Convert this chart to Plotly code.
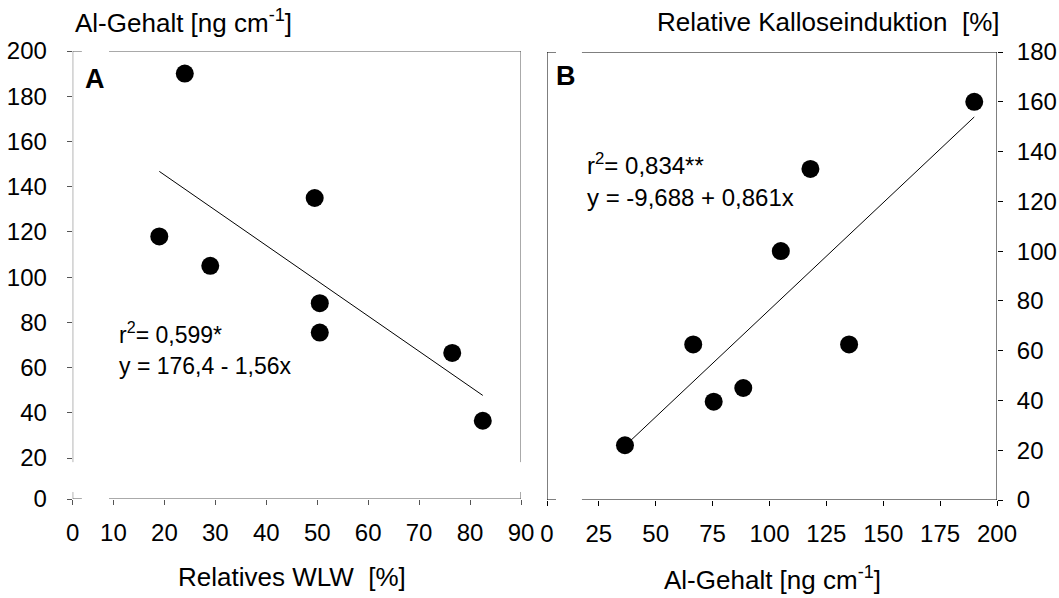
import plotly.graph_objects as go

# Measured values (8 samples)
wlw_rel = [24.0, 19.0, 29.0, 49.5, 50.5, 50.5, 76.5, 82.5]          # Relatives WLW [%]
al_content = [190.0, 118.0, 105.0, 135.0, 88.5, 75.5, 66.5, 36.5]   # Al-Gehalt [ng cm-1]
callose_rel = [160.0, 133.0, 100.0, 62.5, 45.0, 39.5, 62.5, 22.0]   # Relative Kalloseinduktion [%]

# Regression coefficients
fit_a = (176.4, -1.56)
fit_b = (-9.688, 0.861)
label_a = ["r<sup>2</sup>= 0,599*", "y = 176,4 - 1,56x"]
label_b = ["r<sup>2</sup>= 0,834**", "y = -9,688 + 0,861x"]

# Tick labels; the first tick sits at the axis break position
xa_ticks = [2, 10, 20, 30, 40, 50, 60, 70, 80, 90]
xa_text = ["0", "10", "20", "30", "40", "50", "60", "70", "80", "90"]
ya_ticks = [1.9, 20, 40, 60, 80, 100, 120, 140, 160, 180, 200]
ya_text = ["0", "20", "40", "60", "80", "100", "120", "140", "160", "180", "200"]
xb_ticks = [2.24, 25, 50, 75, 100, 125, 150, 175, 200]
xb_text = ["0", "25", "50", "75", "100", "125", "150", "175", "200"]
yb_ticks = [0, 20, 40, 60, 80, 100, 120, 140, 160, 180]

W, H = 1059, 598
FONT = "Liberation Sans, Arial, sans-serif"
TICKFONT = dict(family=FONT, size=24, color="black")
GRAY = "#555555"


def px(x):
    return x / W


def py(y):
    return 1 - y / H


fig = go.Figure()

# Panel A: Al content vs relative WLW
fig.add_trace(go.Scatter(
    x=wlw_rel, y=al_content, mode="markers", xaxis="x", yaxis="y",
    marker=dict(color="black", size=18), showlegend=False))
xa_line = [min(wlw_rel), max(wlw_rel)]
fig.add_trace(go.Scatter(
    x=xa_line, y=[fit_a[0] + fit_a[1] * v for v in xa_line], mode="lines",
    xaxis="x", yaxis="y", line=dict(color="black", width=1), showlegend=False))

# Panel B: callose induction vs Al content
fig.add_trace(go.Scatter(
    x=al_content, y=callose_rel, mode="markers", xaxis="x2", yaxis="y2",
    marker=dict(color="black", size=18), showlegend=False))
xb_line = [min(al_content), max(al_content)]
fig.add_trace(go.Scatter(
    x=xb_line, y=[fit_b[0] + fit_b[1] * v for v in xb_line], mode="lines",
    xaxis="x2", yaxis="y2", line=dict(color="black", width=1), showlegend=False))

common = dict(showgrid=False, zeroline=False, showline=False, ticks="outside",
              ticklen=5, tickwidth=1, tickfont=TICKFONT, fixedrange=True,
              automargin=False)

fig.update_layout(
    width=W, height=H, margin=dict(l=0, r=0, t=0, b=0, autoexpand=False),
    paper_bgcolor="white", plot_bgcolor="white",
    xaxis=dict(domain=[px(72.7), px(521)], range=[2, 90], tickmode="array",
               tickvals=xa_ticks, ticktext=xa_text, tickcolor=GRAY,
               anchor="y", ticklabelstandoff=7, **common),
    yaxis=dict(domain=[py(499), py(51)], range=[1.9, 200], tickmode="array",
               tickvals=ya_ticks, ticktext=ya_text, tickcolor=GRAY,
               anchor="x", ticklabelstandoff=15, **common),
    xaxis2=dict(domain=[px(547), px(997)], range=[2.24, 200], tickmode="array",
                tickvals=xb_ticks, ticktext=xb_text, tickcolor="black",
                anchor="y2", ticklabelstandoff=7, **common),
    yaxis2=dict(domain=[py(500), py(52)], range=[0, 180], tickmode="array",
                tickvals=yb_ticks, side="right", tickcolor="black",
                anchor="x2", ticklabelstandoff=9, **common),
)

# Frame segments with axis breaks near the origin
def seg(xref, yref, x0, y0, x1, y1, color):
    fig.add_shape(type="line", xref=xref, yref=yref, x0=x0, y0=y0, x1=x1, y1=y1,
                  line=dict(color=color, width=1), layer="below")

# Panel A
seg("x", "y", 2, 1.9, 3.8, 1.9, GRAY)        # bottom stub
seg("x", "y", 9.13, 1.9, 90, 1.9, GRAY)      # bottom axis
seg("x", "y", 2, 200, 3.8, 200, GRAY)        # top stub
seg("x", "y", 9.13, 200, 90, 200, GRAY)      # top frame
seg("x", "y", 2, 1.9, 2, 5, GRAY)            # left stub
seg("x", "y", 2, 18.2, 2, 200, GRAY)         # left axis
seg("x", "y", 90, 1.9, 90, 5, GRAY)          # right stub
seg("x", "y", 90, 18.2, 90, 200, GRAY)       # right frame

# Panel B
seg("x2", "y2", 2.24, 0, 6.2, 0, "black")
seg("x2", "y2", 17.6, 0, 200, 0, "black")
seg("x2", "y2", 2.24, 180, 6.2, 180, "black")
seg("x2", "y2", 17.6, 180, 200, 180, "black")
seg("x2", "y2", 2.24, 0, 2.24, 180, "black")
seg("x2", "y2", 200, 0, 200, 180, "black")

def note(text, x, y, size=26, xanchor="center", bold=False):
    fig.add_annotation(text=f"<b>{text}</b>" if bold else text,
                       x=px(x), y=py(y), xref="paper", yref="paper",
                       xanchor=xanchor, yanchor="middle", showarrow=False,
                       font=dict(family=FONT, size=size, color="black"))

note("Al-Gehalt [ng cm<sup>-1</sup>]", 73, 22, xanchor="left")
note("Relative Kalloseinduktion  [%]", 1002, 22, xanchor="right")
note("Relatives WLW  [%]", 292, 577)
note("Al-Gehalt [ng cm<sup>-1</sup>]", 772, 578)
note("A", 95, 79, size=27, bold=True)
note("B", 566, 76, size=27, bold=True)
note(label_a[0], 117, 333, size=23, xanchor="left")
note(label_a[1], 117, 366, size=23, xanchor="left")
note(label_b[0], 585, 164, size=24, xanchor="left")
note(label_b[1], 585, 197, size=24, xanchor="left")

fig.write_html("out.html")
